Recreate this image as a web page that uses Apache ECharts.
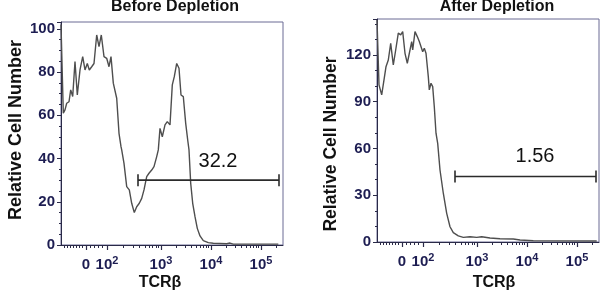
<!DOCTYPE html>
<html>
<head>
<meta charset="utf-8">
<script src="https://cdn.jsdelivr.net/npm/echarts@6/dist/echarts.min.js"></script>
<style>
html,body{margin:0;padding:0;background:#fff;}
#chart{width:600px;height:301px;}
</style>
</head>
<body>
<div id="chart"></div>
<script>
// x positions are on the biexponential display scale (decade units: 10^3 -> 3, 10^4 -> 4 ...)
const xTickPos = [1.5, 1.92, 3, 4, 5];
const xTickLabels = ['{b|0}', '{b|10}{s|2}', '{b|10}{s|3}', '{b|10}{s|4}', '{b|10}{s|5}'];
const xMinorPos = [1.06, 1.12, 1.18, 1.24, 1.30, 1.36, 1.42, 1.58, 1.66, 1.74, 1.82,
  2.245, 2.435, 2.57, 2.675, 2.76, 2.83, 2.895, 2.95,
  3.301, 3.477, 3.602, 3.699, 3.778, 3.845, 3.903, 3.954,
  4.301, 4.477, 4.602, 4.699, 4.778, 4.845, 4.903, 4.954, 5.301];

const beforeX = [1.0, 1.046, 1.08, 1.114, 1.16, 1.194, 1.234, 1.28, 1.326, 1.38, 1.434, 1.48, 1.526,
  1.566, 1.614, 1.66, 1.714, 1.76, 1.806, 1.86, 1.914, 1.96, 2.0, 2.046, 2.114, 2.16, 2.2, 2.214,
  2.26, 2.314, 2.366, 2.414, 2.466, 2.514, 2.566, 2.614, 2.66, 2.714, 2.76, 2.814, 2.86, 2.914,
  2.946, 2.98, 3.026, 3.08, 3.126, 3.18, 3.226, 3.266, 3.314, 3.36, 3.4, 3.446, 3.494, 3.534,
  3.56, 3.594, 3.634, 3.68, 3.726, 3.78, 3.846, 3.946, 4.046, 4.314, 4.38, 4.446, 5.346];
const beforeY = [102, 61, 62.5, 65.6, 66.3, 71.8, 68.7, 84.9, 69.4, 81, 87.2, 81, 84,
  81, 82.5, 84, 97.2, 91.8, 97.2, 87.2, 86.4, 82.5, 87.2, 74.9, 67.9, 51.7, 45.5, 44,
  37.8, 27, 25.5, 19.3, 15, 17.7, 19.3, 21.6, 25.5, 31.6, 33.2, 34.7, 36.3, 40.9,
  44, 54, 50.1, 55.6, 57.1, 55.6, 74.1, 77.9, 84, 81.8, 69.4, 68.7, 56.3, 48.6,
  44, 28.6, 19.3, 13.1, 7.7, 4.2, 2, 1.1, 0.8, 0.6, 0.9, 0.4, 0.4];

const afterX = [1.0, 1.04, 1.094, 1.14, 1.18, 1.226, 1.274, 1.326, 1.374, 1.426, 1.474, 1.514,
  1.56, 1.606, 1.66, 1.694, 1.714, 1.76, 1.806, 1.846, 1.874, 1.914, 1.946, 1.98, 2.026,
  2.046, 2.08, 2.114, 2.146, 2.18, 2.214, 2.26, 2.326, 2.394, 2.46, 2.526, 2.626, 2.726,
  2.86, 2.994, 3.094, 3.26, 3.46, 3.726, 3.86, 4.126, 5.394];
const afterY = [142.5, 100.8, 94.4, 104, 112.5, 116.8, 127.5, 113.6, 123.2, 134, 132.9, 135,
  121.1, 114.7, 123.2, 128.6, 123.2, 135, 131.8, 128.6, 129.7, 122.1, 124.3, 121.1, 106.1,
  97.6, 101.9, 99.7, 86.8, 69.8, 63.3, 46.2, 31.3, 18.4, 9.8, 6, 3.9, 3,
  3.4, 3, 3.4, 2.6, 2.1, 1.9, 1.3, 0.8, 0.6];

const gateBeforeX = [2.54, 5.36];
const gateBeforeLevel = 30;
const gateBeforeText = '32.2';
const gateBeforeTextPos = [4.14, 38.5];

const gateAfterX = [2.56, 5.38];
const gateAfterLevel = 42;
const gateAfterText = '1.56';
const gateAfterTextPos = [4.16, 54.6];

const panelTitles = ['Before Depletion', 'After Depletion'];
const yName = 'Relative Cell Number';
const xName = 'TCRβ';

const zip = (xs, ys) => xs.map((x, i) => [x, ys[i]]);

const tickColor = '#1d1d52';
const FAMILY = '"Liberation Sans", Arial, sans-serif';
const labelRich = {
  b: {fontSize: 15, fontWeight: 'bold', color: tickColor, fontFamily: FAMILY, lineHeight: 20},
  s: {fontSize: 11, fontWeight: 'bold', color: tickColor, fontFamily: FAMILY, lineHeight: 12, padding: [0, 0, 8, 0]}
};

function mainX(gridIndex) {
  return {
    type: 'value', gridIndex: gridIndex, min: 1, max: 5.44,
    axisLine: {show: true, lineStyle: {color: '#2a2a48', width: 1}},
    axisTick: {show: true, customValues: xTickPos, length: 5, lineStyle: {color: '#2a2a48', width: 1.2}},
    axisLabel: {
      customValues: xTickPos, margin: 10, rich: labelRich,
      formatter: v => xTickLabels[xTickPos.indexOf(v)]
    },
    splitLine: {show: false}
  };
}
function minorX(gridIndex) {
  return {
    type: 'value', gridIndex: gridIndex, min: 1, max: 5.44, position: 'bottom',
    axisLine: {show: false},
    axisTick: {show: true, customValues: xMinorPos, length: 3, lineStyle: {color: '#2a2a48', width: 1}},
    axisLabel: {show: false, customValues: xMinorPos},
    splitLine: {show: false}
  };
}
function yAx(gridIndex, max, interval, minorSplit) {
  return {
    type: 'value', gridIndex: gridIndex, min: 0, max: max, interval: interval,
    axisLine: {show: true, lineStyle: {color: '#2a2a48', width: 1}},
    axisTick: {show: true, length: 4, lineStyle: {color: '#2a2a48'}},
    minorTick: {show: true, splitNumber: minorSplit, length: 2, lineStyle: {color: '#2a2a48'}},
    axisLabel: {margin: 6, fontSize: 15, fontWeight: 'bold', color: tickColor, fontFamily: FAMILY,
      showMaxLabel: false},
    splitLine: {show: false}
  };
}

function gateSeries(xAxisIndex, yAxisIndex, xs, level) {
  return {
    type: 'line', xAxisIndex: xAxisIndex, yAxisIndex: yAxisIndex,
    data: xs.map(x => [x, level]),
    symbol: 'rect', symbolSize: [1.6, 12], showSymbol: true,
    itemStyle: {color: '#2b2b2b'},
    lineStyle: {color: '#2b2b2b', width: 1.6},
    silent: true, z: 3
  };
}
function gateLabel(xAxisIndex, yAxisIndex, pos, text) {
  return {
    type: 'scatter', xAxisIndex: xAxisIndex, yAxisIndex: yAxisIndex,
    data: [pos], symbolSize: 1, itemStyle: {color: 'rgba(0,0,0,0)'},
    label: {show: true, position: 'inside', formatter: text, fontSize: 20,
      color: '#111', textBorderWidth: 0, opacity: 1, fontFamily: FAMILY},
    silent: true, z: 4
  };
}
function histSeries(xAxisIndex, yAxisIndex, xs, ys) {
  return {
    type: 'line', xAxisIndex: xAxisIndex, yAxisIndex: yAxisIndex,
    data: zip(xs, ys), showSymbol: false, symbol: 'none',
    lineStyle: {color: '#4e4e4e', width: 1.4},
    silent: true, z: 2
  };
}

const font = (size) => 'bold ' + size + 'px ' + FAMILY;
function txt(text, x, y, size, rot) {
  return {
    type: 'text', x: x, y: y, rotation: rot || 0, silent: true,
    style: {text: text, font: font(size), fill: '#111', textAlign: 'center', textVerticalAlign: 'middle',
      align: 'center', verticalAlign: 'middle'}
  };
}

const chart = echarts.init(document.getElementById('chart'), null, {renderer: 'canvas'});
chart.setOption({
  animation: false,
  backgroundColor: '#fff',
  grid: [
    {left: 61, top: 22, width: 222, height: 223, show: true, borderColor: '#6b6b94', borderWidth: 1, backgroundColor: 'transparent'},
    {left: 377, top: 19, width: 222, height: 223, show: true, borderColor: '#6b6b94', borderWidth: 1, backgroundColor: 'transparent'}
  ],
  xAxis: [mainX(0), mainX(1), minorX(0), minorX(1)],
  yAxis: [yAx(0, 103.2, 20, 4), yAx(1, 143.1, 30, 3)],
  series: [
    histSeries(0, 0, beforeX, beforeY),
    histSeries(1, 1, afterX, afterY),
    gateSeries(0, 0, gateBeforeX, gateBeforeLevel),
    gateSeries(1, 1, gateAfterX, gateAfterLevel),
    gateLabel(0, 0, gateBeforeTextPos, gateBeforeText),
    gateLabel(1, 1, gateAfterTextPos, gateAfterText)
  ],
  graphic: [
    txt(panelTitles[0], 175, 7, 16),
    txt(panelTitles[1], 497, 7, 16),
    txt(xName, 160, 283, 16),
    txt(xName, 494, 283, 16),
    txt(yName, 16, 130, 18, Math.PI / 2),
    txt(yName, 331, 144, 17.5, Math.PI / 2)
  ]
});
</script>
</body>
</html>
